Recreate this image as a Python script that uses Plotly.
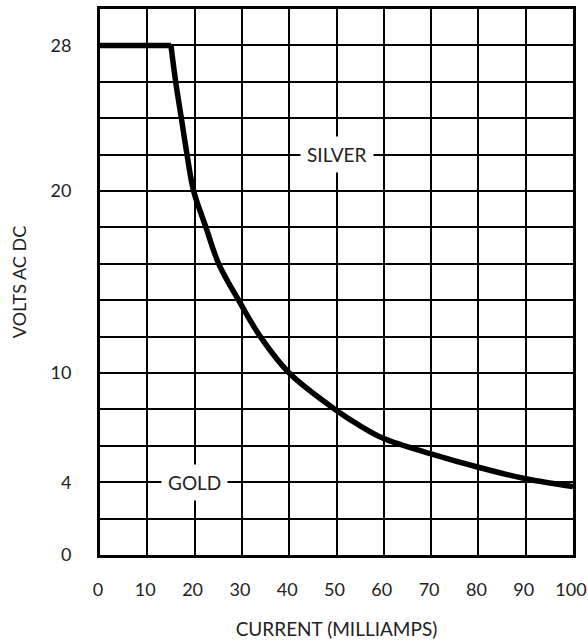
import plotly.graph_objects as go

# Data
current_ma = [0, 15, 16.0, 17.2, 18.4, 19.8, 22.4, 25.1, 29.3, 33.9, 40, 49.7, 55, 60, 70, 80, 90, 100]
volts = [28, 28, 26, 24, 22, 20, 18, 16, 14, 12, 10, 8, 7.1, 6.4, 5.56, 4.82, 4.19, 3.76]

x_ticks = [0, 10, 20, 30, 40, 50, 60, 70, 80, 90, 100]
y_ticks = [0, 4, 10, 20, 28]

labels = ["SILVER", "GOLD"]
label_x = [50, 20]
label_y = [22, 4]

FONT = "Lato"
fig = go.Figure()

# flat section (sharp corner) + smooth curve
fig.add_trace(go.Scatter(x=current_ma[:2], y=volts[:2], mode="lines",
                         line=dict(color="black", width=5.5), showlegend=False, hoverinfo="skip"))
fig.add_trace(go.Scatter(x=current_ma[1:], y=volts[1:], mode="lines",
                         line=dict(color="black", width=5.5, shape="spline", smoothing=1.0),
                         showlegend=False, hoverinfo="skip"))

for t, x, y in zip(labels, label_x, label_y):
    fig.add_annotation(x=x, y=y, text=t, showarrow=False, bgcolor="white",
                       borderpad=6, font=dict(family=FONT, size=19, color="#222"))

fig.update_layout(
    width=588, height=640,
    margin=dict(l=100, r=15, t=9, b=85),
    plot_bgcolor="white", paper_bgcolor="white",
    font=dict(family=FONT, size=18, color="#222"),
)
fig.update_xaxes(
    range=[0, 100], tickmode="array", tickvals=x_ticks,
    showgrid=True, gridcolor="black", gridwidth=1.5,
    showline=True, linecolor="black", linewidth=3, mirror=True,
    zeroline=False, ticks="", ticklabelstandoff=16, ticklabelshift=-2,
    ticklabeloverflow="allow", automargin=False,
    title=dict(text="CURRENT (MILLIAMPS)", standoff=25, font=dict(size=19)),
)
fig.update_yaxes(
    range=[0, 30], tickmode="array", tickvals=y_ticks,
    showgrid=True, gridcolor="black", gridwidth=1.5,
    minor=dict(tickmode="linear", tick0=0, dtick=2, showgrid=True,
               gridcolor="black", gridwidth=1.5, ticks=""),
    showline=True, linecolor="black", linewidth=3, mirror=True,
    zeroline=False, ticks="", ticklabelstandoff=22, automargin=False,
    title=dict(text="VOLTS AC DC", standoff=20, font=dict(size=18)),
)

fig.write_html("out.html", config={"displayModeBar": False},
               post_script="document.body.style.margin='0';document.body.style.padding='0';")
